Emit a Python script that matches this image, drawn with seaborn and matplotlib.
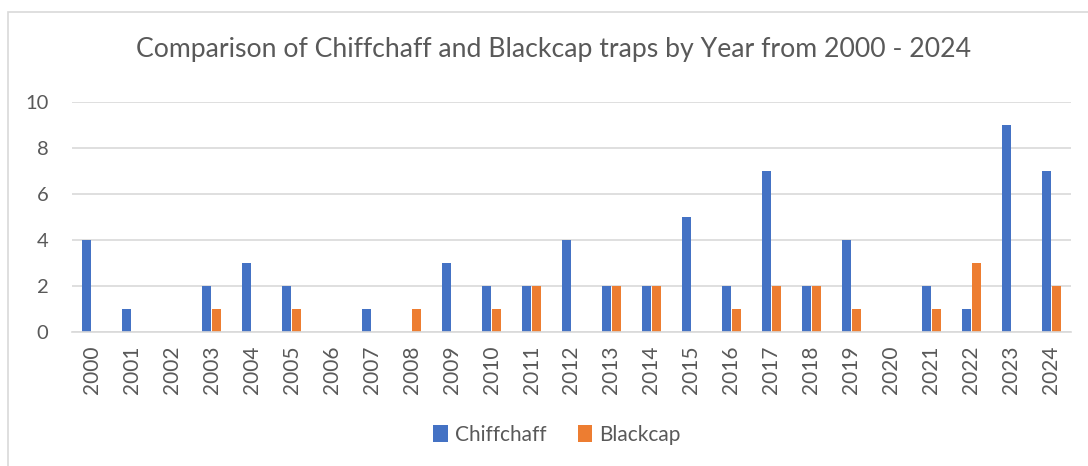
import matplotlib
matplotlib.use("Agg")
import matplotlib.pyplot as plt
import seaborn as sns
import pandas as pd
from matplotlib.patches import Rectangle

years = [str(y) for y in range(2000, 2025)]
chiffchaff = [4, 1, 0, 2, 3, 2, 0, 1, 0, 3, 2, 2, 4, 2, 2, 5, 2, 7, 2, 4, 0, 2, 1, 9, 7]
blackcap = [0, 0, 0, 1, 0, 1, 0, 0, 1, 0, 1, 2, 0, 2, 2, 0, 1, 2, 2, 1, 0, 1, 3, 0, 2]
series_names = ["Chiffchaff", "Blackcap"]
colors = ["#4472C4", "#ED7D31"]
title = "Comparison of Chiffchaff and Blackcap traps by Year from 2000 - 2024"

df = pd.DataFrame({
    "Year": years * 2,
    "Count": chiffchaff + blackcap,
    "Species": [series_names[0]] * len(years) + [series_names[1]] * len(years),
})

sns.set_theme(style="white")
plt.rcParams["font.family"] = ["Lato", "DejaVu Sans"]
text_color = "#595959"

fig = plt.figure(figsize=(10.88, 4.66), dpi=100)
ax = fig.add_axes([72 / 1088, 1 - 332 / 466, (1071 - 72) / 1088, (332 - 102) / 466])

sns.barplot(data=df, x="Year", y="Count", hue="Species", palette=colors,
            width=0.5, gap=0.1, ax=ax, legend=True, saturation=1, linewidth=0)

ax.set_ylim(0, 10)
ax.set_yticks([0, 2, 4, 6, 8, 10])
ax.set_xlim(-0.5, len(years) - 0.5)
ax.yaxis.grid(True, color="#D9D9D9", linewidth=1.2)
ax.set_axisbelow(True)
for s in ["top", "right", "left"]:
    ax.spines[s].set_visible(False)
ax.spines["bottom"].set_color("#D9D9D9")
ax.spines["bottom"].set_linewidth(1.2)
ax.set_xlabel("")
ax.set_ylabel("")
ax.tick_params(axis="x", labelrotation=90, labelsize=15, colors=text_color, length=0, pad=10)
ax.tick_params(axis="y", labelsize=14.5, colors=text_color, length=0, pad=17)

fig.text(554 / 1088, 1 - 50 / 466, title, ha="center", va="center",
         fontsize=19.2, color=text_color)

ax.legend_.remove()
handles, labels = ax.get_legend_handles_labels()
fig.legend(handles, labels, loc="center", bbox_to_anchor=(557 / 1088, 1 - 435 / 466),
           ncol=2, frameon=False, fontsize=15, labelcolor=text_color,
           handlelength=0.68, handleheight=0.9, handletextpad=0.35, columnspacing=1.5)

fig.patches.append(Rectangle((8 / 1088, -0.1), 1.2, 1 - 12 / 466 + 0.1,
                             transform=fig.transFigure, fill=False,
                             edgecolor="#D9D9D9", linewidth=1.2))

fig.savefig("out.png", dpi=100)
